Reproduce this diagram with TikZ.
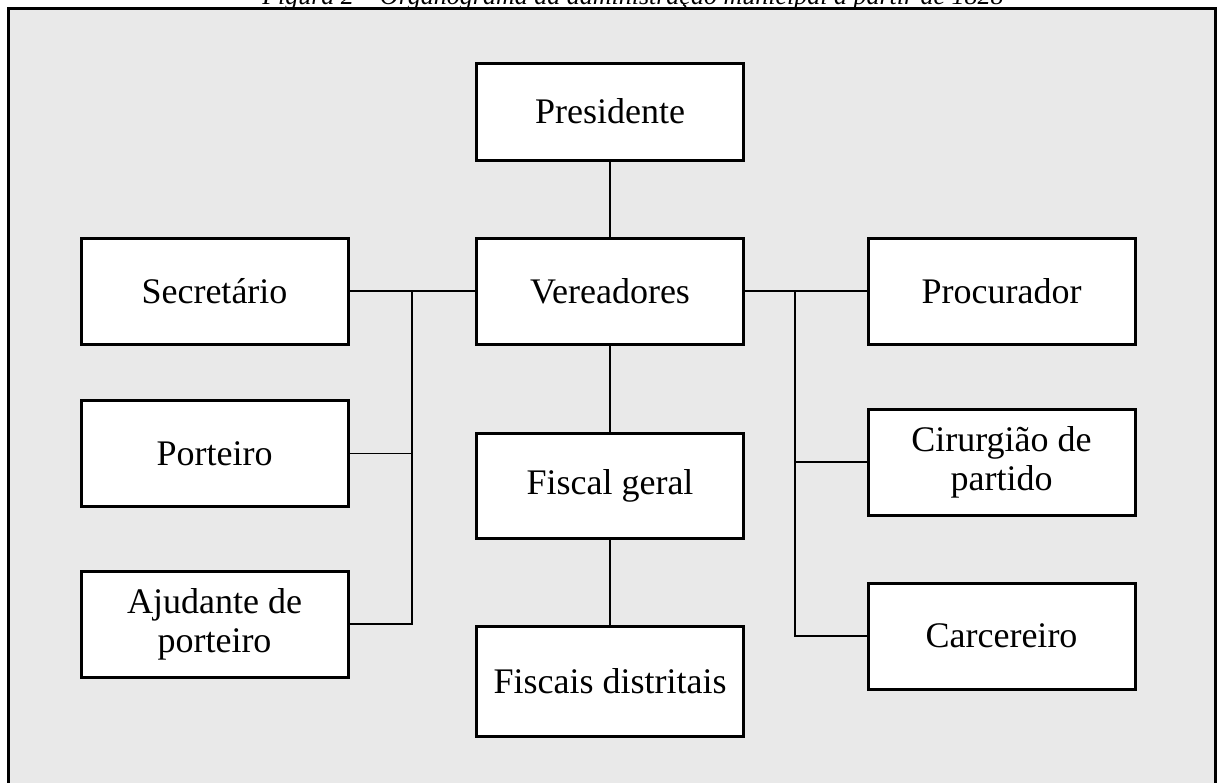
\documentclass[tikz,border=0pt]{standalone}
\usepackage{fontspec}
\setmainfont{Liberation Serif}
\begin{document}
\begin{tikzpicture}[x=0.5pt,y=-0.5pt,
  orgbox/.style={draw=black, fill=white, line width=1.5pt, minimum width=133.5pt, minimum height=53pt, inner sep=0pt, align=center, font=\fontsize{18}{19.5}\selectfont},
  link/.style={draw=black, line width=0.75pt}]
\useasboundingbox (0,0) rectangle (1220,782);
\clip (0,0) rectangle (1220,782);
\fill[black!8.5] (8.5,8.5) rectangle (1215.5,800);
\node[anchor=base, font=\fontsize{13}{15}\selectfont\itshape] (cap) at (633,4) {Figura 2 – Organograma da administração municipal a partir de 1828};
\draw[line width=1.5pt] (8.5,800) -- (8.5,8.5) -- (1215.5,8.5) -- (1215.5,800);
% center column
\node[orgbox, minimum height=48.5pt] (pres) at (610,111.5) {Presidente};
\node[orgbox] (ver) at (610,291) {Vereadores};
\node[orgbox, minimum height=52.5pt] (fg) at (610,485.5) {Fiscal geral};
\node[orgbox, minimum height=55pt] (fd) at (610,681) {Fiscais distritais};
% left column
\node[orgbox] (sec) at (214.5,291) {Secretário};
\node[orgbox] (port) at (214.5,453.5) {Porteiro};
\node[orgbox] (aj) at (214.5,624) {Ajudante de\\porteiro};
% right column
\node[orgbox] (proc) at (1001.5,291) {Procurador};
\node[orgbox] (cir) at (1001.5,462) {Cirurgião de\\partido};
\node[orgbox] (car) at (1001.5,636) {Carcereiro};
% connectors
\coordinate (lb) at (412,291);
\coordinate (rb) at (795,291);
\path[link] (pres.south) -- (ver.north);
\path[link] (ver.south) -- (fg.north);
\path[link] (fg.south) -- (fd.north);
\path[link] (sec.east) -- (ver.west);
\path[link] (lb) |- (aj.east);
\path[link] (lb |- port.east) -- (port.east);
\path[link] (ver.east) -- (proc.west);
\path[link] (rb) |- (car.west);
\path[link] (rb |- cir.west) -- (cir.west);
\end{tikzpicture}
\end{document}
